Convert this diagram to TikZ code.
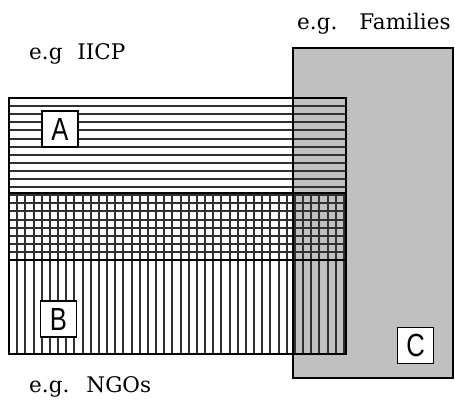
\documentclass[tikz,border=0pt]{standalone}
\usepackage{fontspec}
\setmainfont{DejaVu Serif}
\newfontfamily\lblfont{Liberation Sans}
\definecolor{cgray}{HTML}{C0C0C0}
\definecolor{hatchcol}{HTML}{303030}
\tikzset{
  hatch/.style={draw=hatchcol, line width=2pt},
  border/.style={draw=black, line width=2pt},
  lbl/.style={draw=black, fill=white, line width=1.6pt, minimum width=36pt, minimum height=36pt, inner sep=0pt,
    font=\lblfont\fontsize{32}{32}\selectfont},
  eg/.style={inner sep=0pt, anchor=base west, font=\fontsize{21.5}{24}\selectfont}
}
\begin{document}
\begin{tikzpicture}[x=1pt,y=-1pt]
\useasboundingbox (0,0) rectangle (455,399);
% gray set C
\fill[cgray] (293,48) rectangle (453,378);
% horizontal hatching (set A)
\foreach \k in {0,...,20} {
  \pgfmathsetmacro{\yy}{round(98+8.1*\k)}
  \draw[hatch] (9,\yy) -- (346,\yy);
}
% vertical hatching (set B)
\foreach \k in {0,...,41} {
  \pgfmathsetmacro{\xx}{round(9+8.17*\k)}
  \draw[hatch] (\xx,193) -- (\xx,354);
}
% borders
\draw[border] (9,98) rectangle (346,260);
\draw[border] (9,193) rectangle (346,354);
\draw[border] (293,48) rectangle (453,378);
% labels
\node[lbl] (A) at (60,129) {\scalebox{0.8}[1]{A}};
\node[lbl] (B) at (58.5,319) {\scalebox{0.8}[1]{B}};
\node[lbl] (C) at (415.5,345.5) {\scalebox{0.8}[1]{C}};
% captions
\node[eg] (iicp) at (29,59) {e.g \hspace{8pt}IICP};
\node[eg] (fam) at (297,29) {e.g. \hspace{13pt}Families};
\node[eg] (ngo) at (29,392) {e.g. \hspace{8pt}NGOs};
\end{tikzpicture}
\end{document}
